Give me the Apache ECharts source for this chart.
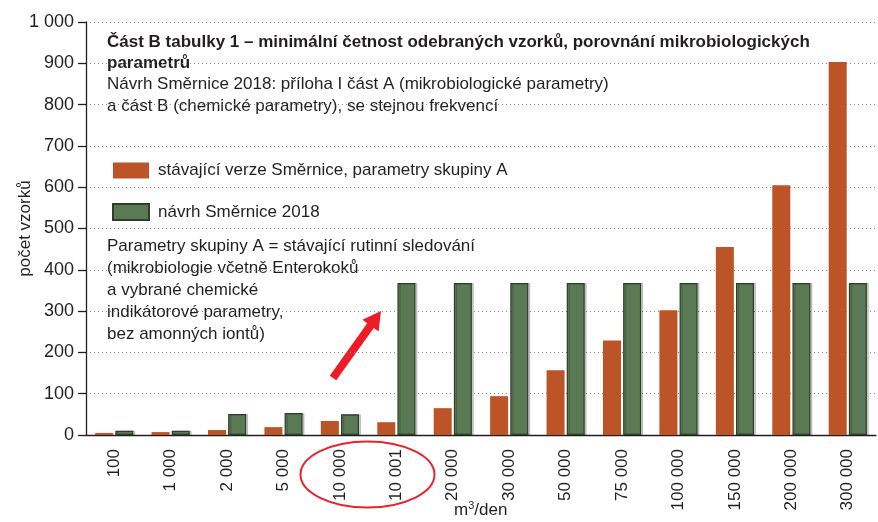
<!DOCTYPE html>
<html>
<head>
<meta charset="utf-8">
<script src="https://cdn.jsdelivr.net/npm/echarts@6/dist/echarts.min.js"></script>
<style>
  html, body { margin: 0; padding: 0; background: #fff; }
  #chart { width: 878px; height: 522px; }
</style>
</head>
<body>
<div id="chart"></div>
<script>
// m3/den categories
var categories = ['100', '1 000', '2 000', '5 000', '10 000', '10 001', '20 000', '30 000',
                  '50 000', '75 000', '100 000', '150 000', '200 000', '300 000'];
// stávající verze Směrnice, parametry skupiny A
var currentA = [5, 7, 12, 19, 34, 31, 65, 94, 157, 229, 302, 455, 605, 903];
// návrh Směrnice 2018
var proposal2018 = [10, 10, 51, 53, 50, 368, 368, 368, 368, 368, 368, 368, 368, 368];
var yTicks = [0, 100, 200, 300, 400, 500, 600, 700, 800, 900, 1000];

var font = '"Liberation Sans Narrow", "Liberation Sans", Arial, sans-serif';
var ink = '#231f20';

function fmt(v) {
    return String(v).replace(/\B(?=(\d{3})+(?!\d))/g, ' ');
}

var chart = echarts.init(document.getElementById('chart'));

var option = {
    animation: false,
    textStyle: { fontFamily: font, color: ink },
    grid: { left: 86, right: 2, top: 22, bottom: 87, outerBoundsMode: 'none', containLabel: false },
    legend: {
        orient: 'vertical',
        left: 107,
        top: 157,
        icon: 'rect',
        itemWidth: 36,
        itemHeight: 16,
        itemGap: 24,
        textStyle: { fontFamily: font, fontSize: 17, color: ink, padding: [0, 0, 0, 4] },
        data: ['stávající verze Směrnice, parametry skupiny A', 'návrh Směrnice 2018']
    },
    xAxis: {
        type: 'category',
        data: categories,
        axisLine: { lineStyle: { color: ink, width: 1.3 } },
        axisTick: { length: 8, lineStyle: { color: ink, width: 1.3 } },
        axisLabel: { rotate: 90, fontSize: 17, color: ink, fontFamily: font, margin: 14 }
    },
    yAxis: {
        type: 'value',
        min: yTicks[0],
        max: yTicks[yTicks.length - 1],
        interval: 100,
        name: 'počet vzorků',
        nameLocation: 'middle',
        nameGap: 52,
        nameMoveOverlap: false,
        nameTextStyle: { fontSize: 17, color: ink, fontFamily: font },
        axisLine: { show: true, lineStyle: { color: ink, width: 1.3 } },
        axisTick: { show: true, length: 8, lineStyle: { color: ink, width: 1.3 } },
        axisLabel: { fontSize: 18, color: ink, fontFamily: font, margin: 12, formatter: fmt },
        splitLine: { lineStyle: { color: '#888', type: [1, 3], width: 1 } }
    },
    series: [
        {
            name: 'stávající verze Směrnice, parametry skupiny A',
            type: 'bar',
            data: currentA,
            barWidth: 18,
            barGap: '12%',
            itemStyle: { color: '#bc5427' }
        },
        {
            name: 'návrh Směrnice 2018',
            type: 'bar',
            data: proposal2018,
            barWidth: 18,
            itemStyle: {
                color: '#5a7a53',
                borderColor: '#2f3d2c',
                borderWidth: 1.2,
                shadowColor: 'rgba(0,0,0,0.18)',
                shadowOffsetX: 2,
                shadowBlur: 0
            }
        }
    ],
    graphic: [
        {
            type: 'text', left: 107, top: 32,
            style: {
                text: 'Část B tabulky 1 – minimální četnost odebraných vzorků, porovnání mikrobiologických\nparametrů',
                font: 'bold 17px ' + font, fill: ink, lineHeight: 21,
                backgroundColor: '#fff'
            }
        },
        {
            type: 'text', left: 107, top: 73,
            style: {
                text: 'Návrh Směrnice 2018: příloha I část A (mikrobiologické parametry)\na část B (chemické parametry), se stejnou frekvencí',
                font: '17px ' + font, fill: ink, lineHeight: 22,
                backgroundColor: '#fff'
            }
        },
        {
            type: 'text', left: 107, top: 235,
            style: {
                text: 'Parametry skupiny A = stávající rutinní sledování\n(mikrobiologie včetně Enterokoků\na vybrané chemické\nindikátorové parametry,\nbez amonných iontů)',
                font: '17px ' + font, fill: ink, lineHeight: 22
            }
        },
        {
            type: 'polygon',
            shape: {
                points: [[336.3, 380.3], [373.8, 327.9], [378.6, 331.4], [381, 311],
                         [362.4, 319.8], [367.2, 323.3], [329.7, 375.7]]
            },
            style: { fill: '#ee1c25' }
        },
        {
            type: 'ellipse',
            shape: { cx: 367.5, cy: 474.5, rx: 67, ry: 33 },
            style: { fill: 'none', stroke: '#e8232b', lineWidth: 2 }
        },
        {
            type: 'text', left: 454, top: 500,
            style: {
                text: '{a|m}{s|3}{a|/den}',
                rich: {
                    a: { font: '17px ' + font, fill: ink, verticalAlign: 'bottom' },
                    s: { font: '11px ' + font, fill: ink, verticalAlign: 'top', padding: [0, 0, 8, 0] }
                }
            }
        }
    ]
};

chart.setOption(option);
</script>
</body>
</html>
